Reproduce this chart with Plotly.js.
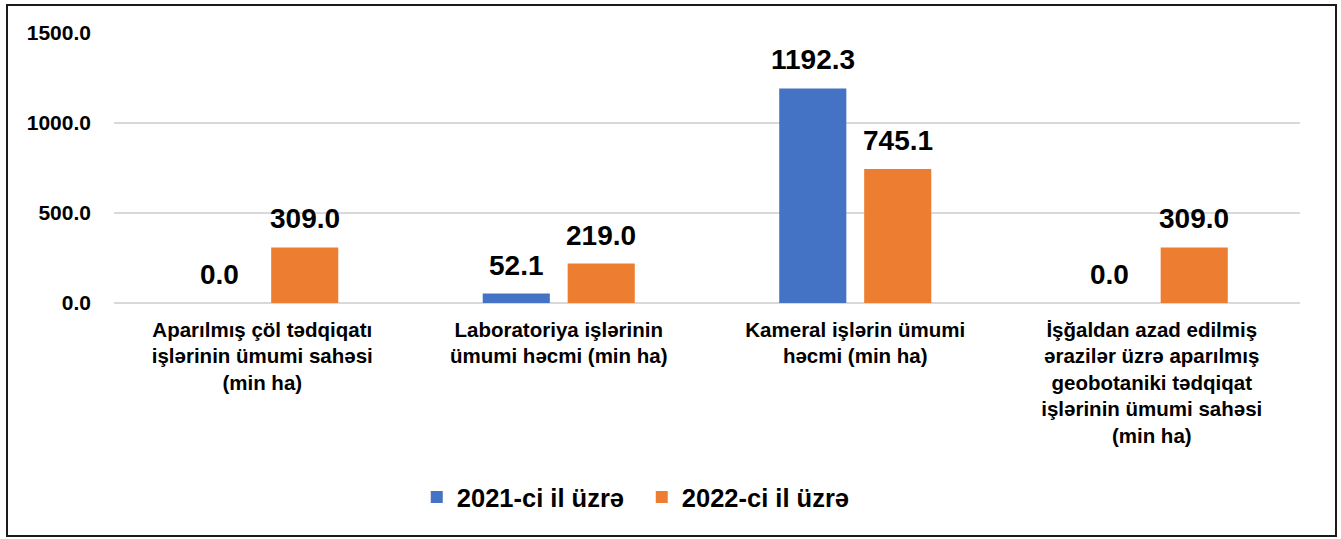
<!DOCTYPE html>
<html>
<head>
<meta charset="utf-8">
<script src="https://cdn.plot.ly/plotly-3.0.1.min.js"></script>
<style>
  html, body { margin: 0; padding: 0; background: #fff; }
  #wrap { position: relative; width: 1341px; height: 539px; }
  #chart { position: absolute; left: 0; top: 0; width: 1341px; height: 539px; }
  #frame { position: absolute; left: 6px; top: 4px; width: 1327px; height: 529px; border: 2px solid #1a1a1a; pointer-events: none; }
</style>
</head>
<body>
<div id="wrap"><div id="chart"></div><div id="frame"></div></div>
<script>
const categories = [
  "Aparılmış çöl tədqiqatı<br>işlərinin ümumi sahəsi<br>(min ha)",
  "Laboratoriya işlərinin<br>ümumi həcmi (min ha)",
  "Kameral işlərin ümumi<br>həcmi (min ha)",
  "İşğaldan azad edilmiş<br>ərazilər üzrə aparılmış<br>geobotaniki tədqiqat<br>işlərinin ümumi sahəsi<br>(min ha)"
];
const series2021 = [0.0, 52.1, 1192.3, 0.0];
const series2022 = [309.0, 219.0, 745.1, 309.0];
const seriesNames = ["2021-ci il üzrə", "2022-ci il üzrə"];
const seriesColors = ["#4472C4", "#ED7D31"];
const yTicks = [0, 500, 1000, 1500];
const yTickLabels = ["0.0", "500.0", "1000.0", "1500.0"];

const font = "Liberation Sans, Arial, sans-serif";
const W = 1341, H = 539;
const margin = {l: 114, r: 41, t: 33, b: 236};
const bargap = 0.427, bargroupgap = 0.21;

const allSeries = [series2021, series2022];
const traces = allSeries.map((vals, i) => ({
  type: "bar", name: seriesNames[i], x: categories, y: vals,
  marker: {color: seriesColors[i]}, hoverinfo: "x+y"
}));

// value labels placed via the axes (category + value), offset to each bar of the group
const plotW = W - margin.l - margin.r;
const catW = plotW / categories.length;
const slot = (1 - bargap) * catW / allSeries.length;
const annotations = [];
allSeries.forEach((vals, i) => {
  vals.forEach((v, j) => {
    annotations.push({
      x: categories[j], y: v, xref: "x", yref: "y",
      text: v.toFixed(1), showarrow: false,
      xshift: (i - (allSeries.length - 1) / 2) * slot,
      yshift: 11, yanchor: "bottom", xanchor: "center",
      font: {family: font, size: 28, color: "#000", weight: "bold"}
    });
  });
});

const layout = {
  width: W, height: H, margin: margin,
  paper_bgcolor: "#fff", plot_bgcolor: "#fff",
  barmode: "group", bargap: bargap, bargroupgap: bargroupgap,
  font: {family: font, color: "#000"},
  xaxis: {
    type: "category", showgrid: false, showline: false, ticks: "",
    tickfont: {family: font, size: 20.5, color: "#000", weight: "bold"},
    ticklabelstandoff: 12, automargin: false, tickangle: 0
  },
  yaxis: {
    range: [0, 1500], tickvals: yTicks, ticktext: yTickLabels,
    showgrid: true, gridcolor: "#d9d9d9", gridwidth: 2,
    zeroline: true, zerolinecolor: "#d9d9d9", zerolinewidth: 2,
    showline: false, ticks: "", ticklabelstandoff: 22,
    tickfont: {family: font, size: 21, color: "#000", weight: "bold"},
    automargin: false
  },
  annotations: annotations,
  showlegend: true,
  legend: {
    orientation: "h", x: 0.445, xanchor: "center", y: -0.72, yanchor: "middle",
    font: {family: font, size: 25.5, color: "#000", weight: "bold"},
    entrywidth: 180, entrywidthmode: "pixels", traceorder: "normal"
  }
};

Plotly.newPlot("chart", traces, layout, {displayModeBar: false, staticPlot: true});
</script>
</body>
</html>
